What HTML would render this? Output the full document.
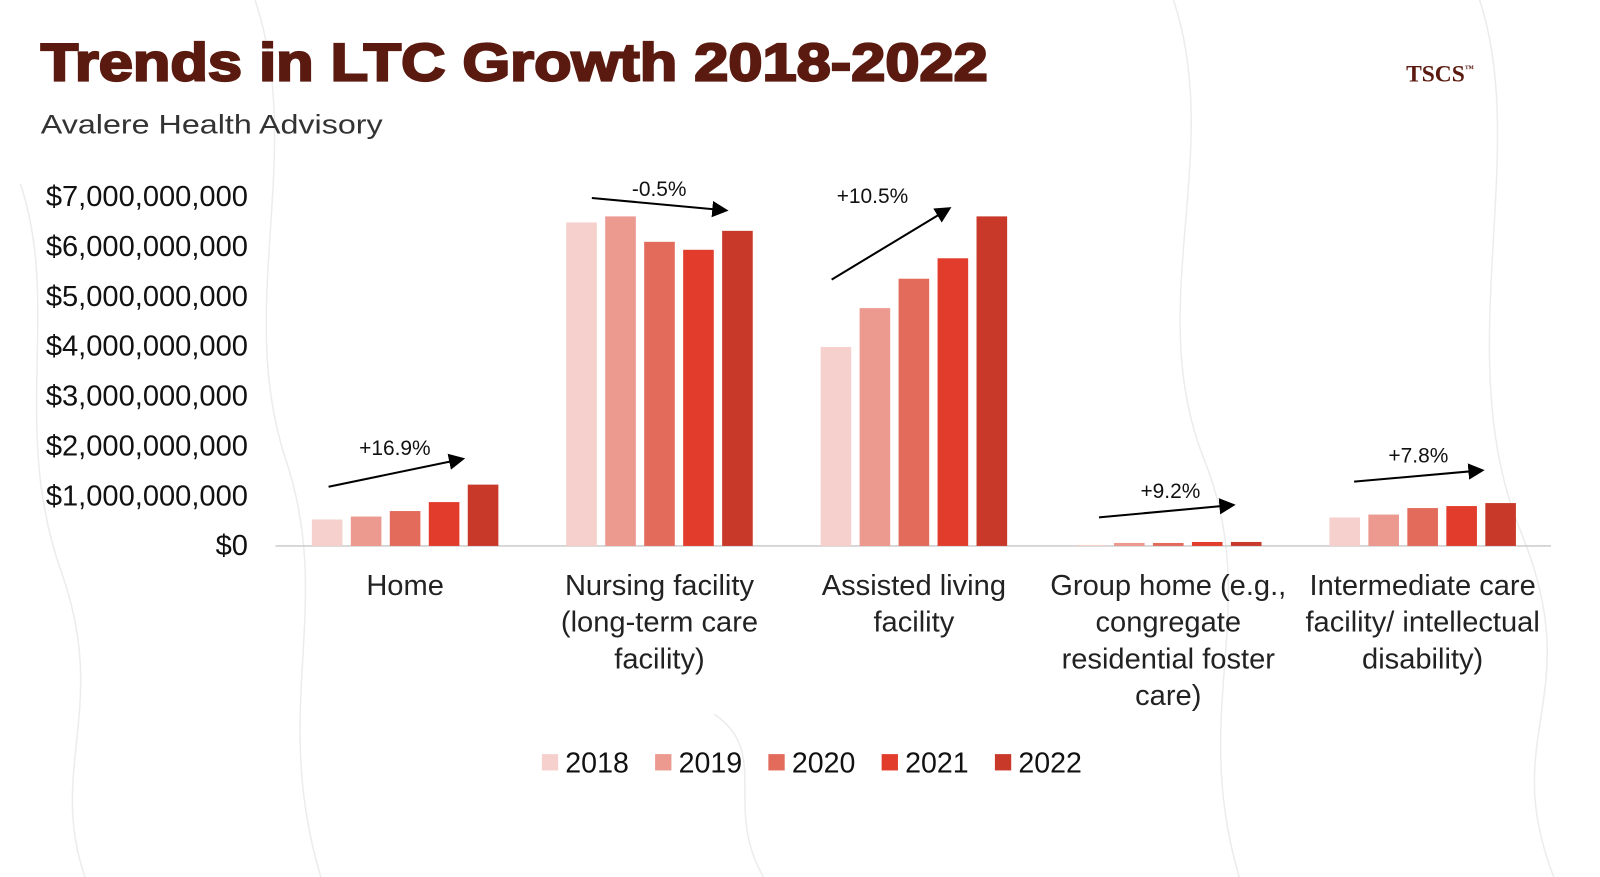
<!DOCTYPE html>
<html><head><meta charset="utf-8"><style>
html,body{margin:0;padding:0;background:#fff;}
body{width:1600px;height:877px;overflow:hidden;position:relative;font-family:"Liberation Sans",sans-serif;}
svg{position:absolute;left:0;top:0;}
</style></head><body>
<svg id="chart" width="1600" height="877" viewBox="0 0 1568 859.4">
 <g id="bg" stroke="#ececec" fill="none" stroke-width="1.5">
  <path d="M20 180 C60 300 10 420 60 560 S40 760 90 877"/>
  <path d="M250 0 C300 150 230 300 280 450 S260 700 320 877"/>
  <path d="M1150 0 C1200 150 1120 300 1180 450 S1160 700 1220 877"/>
  <path d="M1450 0 C1500 150 1420 350 1490 520 S1460 720 1530 877"/>
  <path d="M700 700 C760 740 700 800 760 877"/>
 </g>
 <text x="40" y="79" font-size="52" font-weight="bold" fill="#5a1a10" stroke="#5a1a10" stroke-width="2.2" textLength="928" lengthAdjust="spacingAndGlyphs">Trends in LTC Growth 2018-2022</text>
 <text x="40" y="131" font-size="26" fill="#333" textLength="335" lengthAdjust="spacingAndGlyphs">Avalere Health Advisory</text>
 <text x="1378" y="80" font-size="23" font-family="Liberation Serif,serif" font-weight="bold" fill="#5a1a10">TSCS<tspan font-size="9" dy="-10">™</tspan></text>
 <g id="yaxis"></g>
 <g id="bars"></g>
 <g id="xlabels"></g>
 <g id="arrows"></g>
 <g id="legend"></g>
 <defs><marker id="ah" markerWidth="8" markerHeight="8" refX="6" refY="4" orient="auto" markerUnits="strokeWidth"><path d="M0,0 L8,4 L0,8 z" fill="#000"/></marker></defs>
</svg>
<script>
const categories=[["Home"],["Nursing facility","(long-term care","facility)"],["Assisted living","facility"],["Group home (e.g.,","congregate","residential foster","care)"],["Intermediate care","facility/ intellectual","disability)"]];
const years=["2018","2019","2020","2021","2022"];
const s2018=[0.53,6.49,3.99,0.02,0.57];
const s2019=[0.59,6.61,4.77,0.06,0.63];
const s2020=[0.70,6.10,5.36,0.06,0.76];
const s2021=[0.88,5.94,5.77,0.08,0.80];
const s2022=[1.23,6.32,6.61,0.08,0.86];
const growthLabels=["+16.9%","-0.5%","+10.5%","+9.2%","+7.8%"];
const yTicks=[0,1,2,3,4,5,6,7];
const yTickLabels=["$0","$1,000,000,000","$2,000,000,000","$3,000,000,000","$4,000,000,000","$5,000,000,000","$6,000,000,000","$7,000,000,000"];
const series=[s2018,s2019,s2020,s2021,s2022];
const colors=["#f6d0cc","#ec9a90","#e26b5c","#e23d2c","#c9392a"];
// annotation arrows (start/end in chart units, not data)
const arrowGeom=[[322,477,458,450,387,446],[580,194,716,206,646,192],[815,274,935,205,855,199],[1077,507,1213,495,1147,488],[1327,472,1457,461,1390,453]];
const NS="http://www.w3.org/2000/svg";
const y0=535,pxPer=48.86;
const yScale=v=>y0-v*pxPer;
const cx=i=>397+i*249.3;
const bw=30,step=38.2;
function mk(t,a,p){const e=document.createElementNS(NS,t);for(const k in a)e.setAttribute(k,a[k]);p.appendChild(e);return e;}
const ya=document.getElementById('yaxis');
yTicks.forEach((v,i)=>{const t=mk('text',{x:243,y:yScale(v)+9,'font-size':28.5,'text-anchor':'end',fill:'#111'},ya);t.textContent=yTickLabels[i];

});
const base=mk('line',{x1:270,x2:1520,y1:y0,y2:y0,stroke:'#cfcfcf','stroke-width':1.5},ya);


const bg=document.getElementById('bars');
categories.forEach((c,i)=>{series.forEach((s,j)=>{const x=cx(i)+(j-2)*step-bw/2;const y=yScale(s[i]);
const r=mk('rect',{x:x,y:y,width:bw,height:y0-y,fill:colors[j]},bg);

});
const g=mk('text',{x:cx(i),y:0,'font-size':28.5,'text-anchor':'middle',fill:'#222'},document.getElementById('xlabels'));


c.forEach((ln,k)=>{const ts=mk('tspan',{x:cx(i),y:583+k*36},g);ts.textContent=ln;});});
const ar=document.getElementById('arrows');
arrowGeom.forEach((a,i)=>{
const l=mk('line',{x1:a[0],y1:a[1],x2:a[2]-6,y2:a[3],stroke:'#000','stroke-width':2,'marker-end':'url(#ah)'},ar);


const t=mk('text',{x:a[4],y:a[5],'font-size':20.5,'text-anchor':'middle',fill:'#111'},ar);t.textContent=growthLabels[i];

});
const lg=document.getElementById('legend');
years.forEach((yr,j)=>{const x=531+j*111;
const r=mk('rect',{x:x,y:739,width:16,height:16,fill:colors[j]},lg);


const t=mk('text',{x:x+23,y:757,'font-size':28,fill:'#111'},lg);t.textContent=yr;

});
</script>
</body></html>
